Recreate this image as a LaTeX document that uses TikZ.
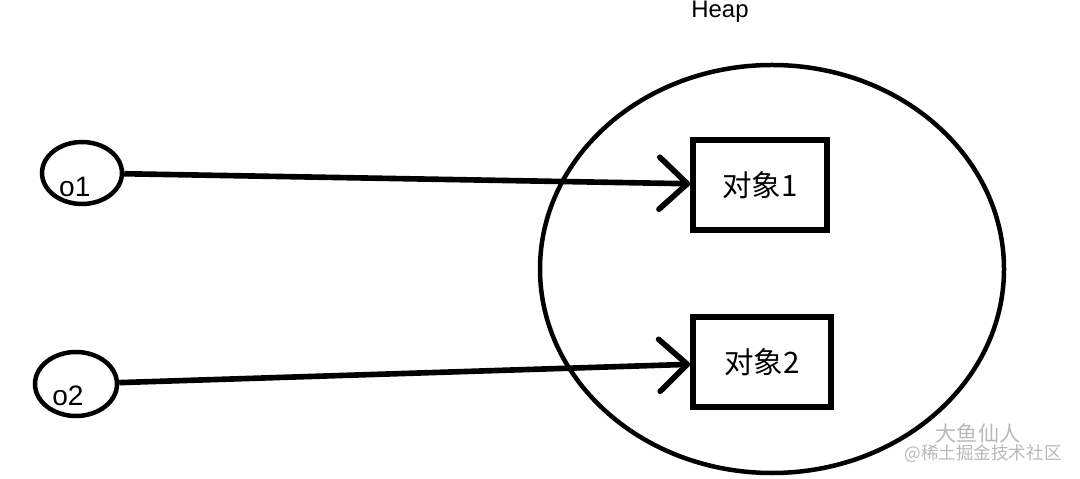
\documentclass[tikz,border=0pt]{standalone}
\usepackage{fontspec}
\setmainfont{Liberation Sans}
\newfontfamily\cjk{Noto Sans CJK SC}
\usetikzlibrary{shapes.geometric,arrows.meta}

\begin{document}
\begin{tikzpicture}[
  ref/.style={draw, ellipse, line width=3.2pt, inner sep=0pt},
  obj/.style={draw, line width=4pt, minimum width=3.35cm, minimum height=2.25cm, font=\cjk\fontsize{21}{24}\selectfont},
  arr/.style={-{Straight Barb[length=7mm, width=13mm, line width=4pt, round]}, line width=4pt},
  wm/.style={text=black!28}
]
\useasboundingbox (0,0) rectangle (27,11.95);
\node[ref, minimum width=5.8cm*2, minimum height=5.1cm*2] (heap) at (19.3,5.225) {};
\node[font=\fontsize{17}{20}\selectfont] (heaplbl) at (18.0,11.65) {Heap};
\node[ref, minimum width=2cm, minimum height=1.55cm,
  label={[shift={(-0.18,-0.35)}, font=\fontsize{20}{24}\selectfont]center:o1}] (o1) at (2.05,7.625) {};
\node[ref, minimum width=2.05cm, minimum height=1.6cm,
  label={[shift={(-0.2,-0.3)}, font=\fontsize{20}{24}\selectfont]center:o2}] (o2) at (1.9,2.35) {};
\node[obj] (obj1) at (19.0,7.325) {对象1};
\node[obj, minimum width=3.45cm] (obj2) at (19.05,2.9) {对象2};
\draw[arr] (o1) -- (obj1);
\draw[arr] (o2) -- (obj2);
% watermark
\node[wm, font=\cjk\fontsize{15}{18}\selectfont] (wmname) at (24.45,1.125) {大鱼仙人};
\node[wm, font=\cjk\fontsize{12.5}{15}\selectfont] (wmsite) at (24.575,0.6) {@稀土掘金技术社区};
\end{tikzpicture}
\end{document}
